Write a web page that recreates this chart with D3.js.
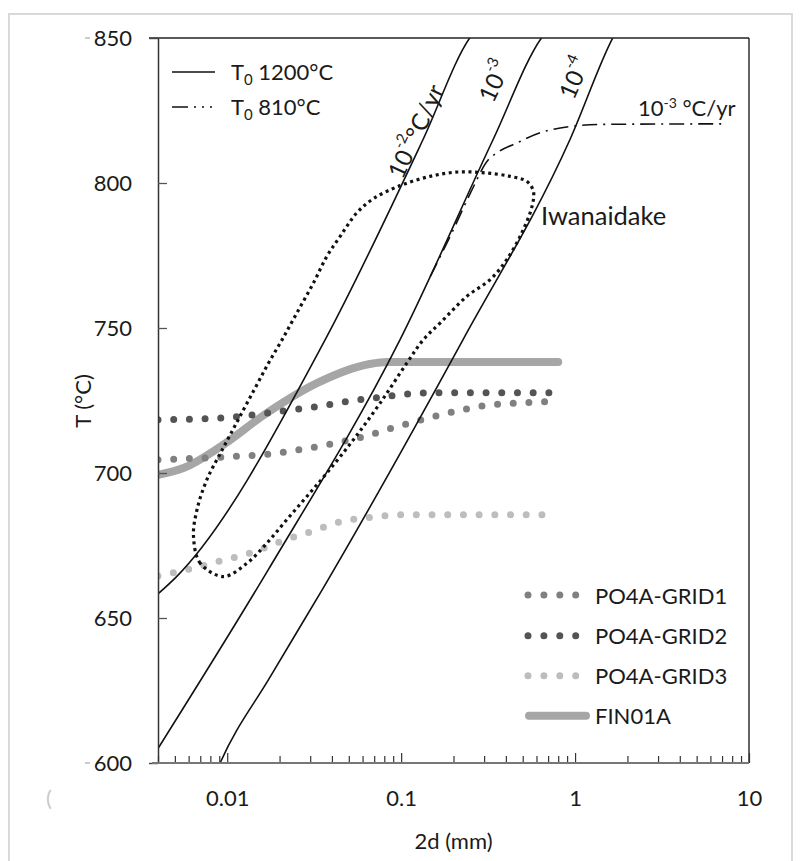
<!DOCTYPE html>
<html><head><meta charset="utf-8">
<script src="https://cdn.jsdelivr.net/npm/d3@7"></script>
<style>
body{margin:0;background:#fff}
svg{display:block}
text{font-family:Lato,"Liberation Sans",sans-serif;fill:#1a1a1a}
</style>
</head><body>
<svg id="c" width="800" height="861"></svg>
<script>
// ---------- data ----------
const xTickValues = [0.01, 0.1, 1, 10];
const xTickLabels = ["0.01", "0.1", "1", "10"];
const yTickValues = [600, 650, 700, 750, 800, 850];
const yTickLabels = ["600", "650", "700", "750", "800", "850"];

// T0 1200°C cooling curves (2d mm, T °C)
const rate1e2 = [[0.004,658.3],[0.0051,664.2],[0.0366,746],[0.1336,815],[0.249,850.2],[0.27,853]];
const rate1e3 = [[0.004,605],[0.0172,666.6],[0.0986,746],[0.338,815],[0.644,850.2],[0.7,853]];
const rate1e4 = [[0.0088,598],[0.0091,600],[0.01766,629.7],[0.0357,660.4],[0.227,746],[0.935,815],[1.652,850.2],[1.75,853]];
// T0 810°C, 10^-3 °C/yr
const rate810 = [[0.147,767.8],[0.2,784],[0.25,796.5],[0.318,808.1],[0.355,810.4],[0.462,813.8],[0.629,817.3],[0.979,819.6],[1.39,820.2],[7.3,820.4]];

// Iwanaidake field outline (closed)
const iwanaidake = [[0.00952,664.3],[0.0070,668.9],[0.0064,678.1],[0.0067,687.3],[0.00764,697.7],[0.00936,708.0],
 [0.01157,718.4],[0.01429,728.7],[0.0172,737.7],[0.0207,746.0],[0.0252,755.3],[0.0313,765.5],
 [0.0374,774.7],[0.0446,781.6],[0.0556,789.7],[0.0693,794.6],[0.0987,799.1],[0.1468,802.3],[0.2126,803.8],
 [0.304,803.5],[0.423,802.3],[0.530,800.5],[0.576,797.1],[0.566,792.0],[0.494,782.8],[0.405,773.6],[0.325,766.7],
 [0.2385,760.9],[0.1675,751.7],[0.1343,746.0],[0.1078,737.9],[0.0757,724.1],[0.0532,711.5],[0.0374,700.0],
 [0.0287,691.9],[0.0220,683.9],[0.0169,675.8],[0.0130,668.9]];

const seriesNames = ["PO4A-GRID1", "PO4A-GRID2", "PO4A-GRID3", "FIN01A"];
const grid1 = [[0.004,704.6],[0.0094,705.5],[0.0177,706.6],[0.0268,708.2],[0.0405,710.1],[0.0613,712.6],[0.091,715.7],[0.1355,718.6],[0.203,721.2],[0.307,723.3],[0.46,724.1],[0.76,724.7]];
const grid2 = [[0.004,718.4],[0.0095,719.0],[0.0143,720.1],[0.0217,721.5],[0.033,722.9],[0.0498,724.7],[0.075,726.1],[0.1406,727.6],[0.3,727.7],[0.77,727.7]];
const grid3 = [[0.004,664.5],[0.0062,667.0],[0.0093,669.8],[0.0139,672.6],[0.0203,676.4],[0.0304,679.8],[0.0456,683.3],[0.0688,684.8],[0.103,685.6],[0.74,685.6]];
const fin01a = [[0.004,699.4],[0.0056,701.7],[0.0091,709.0],[0.0169,720.7],[0.0328,731.0],[0.066,737.6],[0.083,738.3],[0.8,738.3]];

// ---------- chart ----------
const svg = d3.select("#c");
const L = 158, R = 749, T = 38, B = 763;
const x = d3.scaleLog().domain([0.004, 10]).range([L, R]);
const y = d3.scaleLinear().domain([600, 850]).range([B, T]);

// outer light frame
svg.append("rect").attr("x", 9).attr("y", 14).attr("width", 783).attr("height", 860)
  .attr("fill", "none").attr("stroke", "#d9d9d9").attr("stroke-width", 2);

svg.append("defs").append("clipPath").attr("id", "clip")
  .append("rect").attr("x", L).attr("y", T).attr("width", R - L).attr("height", B - T);

const smooth = d3.line().x(d => x(d[0])).y(d => y(d[1])).curve(d3.curveMonotoneX);
const plot = svg.append("g").attr("clip-path", "url(#clip)");

// series (drawn under black curves)
plot.append("path").datum(fin01a).attr("d", smooth).attr("fill", "none")
  .attr("stroke", "#a6a6a6").attr("stroke-width", 8).attr("stroke-linecap", "round").attr("stroke-linejoin", "round");
const gridStyles = [
  {data: grid1, color: "#808080"},
  {data: grid2, color: "#545454"},
  {data: grid3, color: "#bdbdbd"}
];
gridStyles.forEach(s => {
  plot.append("path").datum(s.data).attr("d", smooth).attr("fill", "none")
    .attr("stroke", s.color).attr("stroke-width", 7).attr("stroke-linecap", "round")
    .attr("stroke-dasharray", "0 15.7");
});

// cooling curves
[rate1e2, rate1e3, rate1e4].forEach(dt => {
  plot.append("path").datum(dt).attr("d", smooth).attr("fill", "none")
    .attr("stroke", "#111").attr("stroke-width", 1.6);
});
plot.append("path").datum(rate810).attr("d", smooth).attr("fill", "none")
  .attr("stroke", "#111").attr("stroke-width", 1.6).attr("stroke-dasharray", "15 6 2 6");

// Iwanaidake dotted field
const loop = d3.line().x(d => x(d[0])).y(d => y(d[1])).curve(d3.curveCatmullRomClosed.alpha(0.5));
plot.append("path").datum(iwanaidake).attr("d", loop).attr("fill", "none")
  .attr("stroke", "#111").attr("stroke-width", 3.2).attr("stroke-dasharray", "3 3.6");

// ---------- axes ----------
svg.append("line").attr("x1", L - 9).attr("x2", R).attr("y1", T).attr("y2", T).attr("stroke", "#222").attr("stroke-width", 1.4);
svg.append("line").attr("x1", R).attr("x2", R).attr("y1", T).attr("y2", B).attr("stroke", "#222").attr("stroke-width", 1.4);

const yAxisG = svg.append("g").attr("transform", `translate(${L},0)`);
yAxisG.call(d3.axisLeft(y).tickValues(yTickValues).tickSize(0).tickPadding(26)
  .tickFormat((d, i) => yTickLabels[i]));
yAxisG.select(".domain").attr("stroke", "#333").attr("stroke-width", 1.5);
yAxisG.selectAll("text").attr("font-size", 22).style("font-family", "Lato").attr("fill", "#1a1a1a");
const yIn = svg.append("g").attr("transform", `translate(${L},0)`)
  .call(d3.axisLeft(y).tickValues(yTickValues.slice(1, 5)).tickSize(-9).tickFormat(""));
yIn.select(".domain").remove();
yIn.selectAll("line").attr("stroke", "#555").attr("stroke-width", 1.3);
const yOut = svg.append("g").attr("transform", `translate(${L},0)`)
  .call(d3.axisLeft(y).tickValues([600, 850]).tickSize(9).tickFormat(""));
yOut.select(".domain").remove();
yOut.selectAll("line").attr("stroke", "#444").attr("stroke-width", 1.4);
[850, 600].forEach(v => svg.append("line").attr("x1", 85).attr("x2", 90).attr("y1", y(v)).attr("y2", y(v))
  .attr("stroke", "#aaa").attr("stroke-width", 1.2));

const minorVals = [];
[0.001, 0.01, 0.1, 1].forEach(dec => { for (let k = 2; k <= 9; k++) { const v = dec * k; if (v >= 0.004 && v <= 10) minorVals.push(v); } });
const xMinor = svg.append("g").attr("transform", `translate(0,${B})`)
  .call(d3.axisBottom(x).tickValues(minorVals).tickSize(-7).tickFormat(""));
xMinor.select(".domain").remove();
xMinor.selectAll("line").attr("stroke", "#333").attr("stroke-width", 1.2);
const xMajor = svg.append("g").attr("transform", `translate(0,${B})`)
  .call(d3.axisBottom(x).tickValues(xTickValues).tickSize(-10).tickPadding(27)
    .tickFormat((d, i) => xTickLabels[i]));
xMajor.select(".domain").remove();
xMajor.selectAll("line").attr("stroke", "#333").attr("stroke-width", 1.2);
xMajor.selectAll("text").attr("font-size", 22).style("font-family", "Lato").attr("fill", "#1a1a1a");
svg.append("line").attr("x1", L - 6).attr("x2", R).attr("y1", B).attr("y2", B).attr("stroke", "#777").attr("stroke-width", 2);

svg.append("text").attr("x", 46).attr("y", B + 43).attr("font-size", 22).style("fill", "#c8c8c8").text("(");

// axis titles
svg.append("text").attr("x", (L + R) / 2).attr("y", B + 86).attr("text-anchor", "middle").attr("font-size", 22).text("2d (mm)");
svg.append("text").attr("transform", `translate(91,401) rotate(-90)`).attr("text-anchor", "middle")
  .attr("font-size", 22).text("T (°C)");

// ---------- annotations ----------
function rotLabel(d, t, angle, parts) {
  const tx = svg.append("text").attr("transform", `translate(${x(d)},${y(t)}) rotate(${-angle})`)
    .attr("text-anchor", "middle").attr("dominant-baseline", "central").attr("font-size", 24);
  parts.forEach(p => tx.append("tspan").attr("dy", p.dy || 0).attr("font-size", p.fs || 24).text(p.t));
}
rotLabel(0.1195, 818, 65, [{t: "10"}, {t: "-2", dy: -9, fs: 15}, {t: "°C/yr", dy: 9}]);
rotLabel(0.338, 835.3, 65, [{t: "10"}, {t: "-3", dy: -9, fs: 15}, {t: "\u200b", dy: 9}]);
rotLabel(0.974, 836.4, 66, [{t: "10"}, {t: "-4", dy: -9, fs: 15}, {t: "\u200b", dy: 9}]);

const h = svg.append("text").attr("x", 638).attr("y", 116).attr("font-size", 22);
h.append("tspan").text("10");
h.append("tspan").attr("dy", -8).attr("font-size", 14).text("-3");
h.append("tspan").attr("dy", 8).text(" °C/yr");

svg.append("text").attr("x", 541).attr("y", 225).attr("font-size", 25.5).text("Iwanaidake");

// top-left legend
svg.append("line").attr("x1", 172).attr("x2", 215).attr("y1", 72).attr("y2", 72).attr("stroke", "#111").attr("stroke-width", 1.6);
svg.append("line").attr("x1", 172).attr("x2", 215).attr("y1", 107).attr("y2", 107).attr("stroke", "#111").attr("stroke-width", 1.6)
  .attr("stroke-dasharray", "16 6 2 6 2 6 2 6");
[["1200°C", 72], ["810°C", 107]].forEach(([lab, yy]) => {
  const t = svg.append("text").attr("x", 231).attr("y", yy + 8).attr("font-size", 22);
  t.append("tspan").text("T");
  t.append("tspan").attr("dy", 5).attr("font-size", 15).text("0");
  t.append("tspan").attr("dy", -5).text(" " + lab);
});

// bottom-right legend
const legRows = [595, 635.7, 675.7, 715.7];
gridStyles.forEach((s, i) => {
  svg.append("path").attr("d", `M528,${legRows[i]}H576`).attr("stroke", s.color).attr("stroke-width", 7)
    .attr("stroke-linecap", "round").attr("stroke-dasharray", "0 15.9").attr("fill", "none");
  svg.append("text").attr("x", 595).attr("y", legRows[i]).attr("dominant-baseline", "central").attr("font-size", 22).text(seriesNames[i]);
});
svg.append("path").attr("d", `M529,${legRows[3]}H586`).attr("stroke", "#a6a6a6").attr("stroke-width", 8)
  .attr("stroke-linecap", "round").attr("fill", "none");
svg.append("text").attr("x", 595).attr("y", legRows[3]).attr("dominant-baseline", "central").attr("font-size", 22).text(seriesNames[3]);
</script>
</body></html>
